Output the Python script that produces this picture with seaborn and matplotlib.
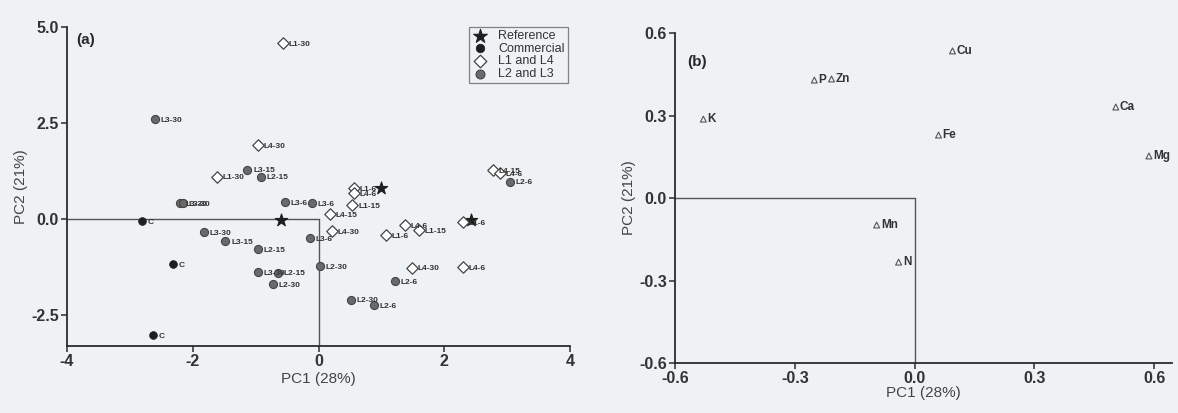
import pandas as pd
import matplotlib.pyplot as plt
import seaborn as sns

# ---------------- data: panel (a) scores ----------------
ref_x = [-0.59, 0.99, 2.42]
ref_y = [-0.03, 0.80, -0.03]

com_x = [-2.80, -2.32, -2.63]
com_y = [-0.05, -1.16, -3.02]
com_lab = ["C", "C", "C"]

l14_x = [-0.57, -0.97, -1.61, 0.56, 0.57, 0.54, 0.18, 0.21, 1.08, 1.37, 1.59, 1.48, 2.29, 2.29, 2.78, 2.88]
l14_y = [4.59, 1.93, 1.11, 0.82, 0.67, 0.36, 0.13, -0.31, -0.41, -0.15, -0.28, -1.26, -1.24, -0.08, 1.27, 1.19]
l14_lab = ["L1-30", "L4-30", "L1-30", "L1-6", "L4-6", "L1-15", "L4-15", "L4-30", "L1-6", "L4-6",
           "L1-15", "L4-30", "L4-6", "L1-6", "L4-15", "L4-6"]

l23_x = [-2.60, -1.13, -0.91, -2.20, -2.15, -0.53, -0.10, -1.82, -1.48, -0.96, -0.13, -0.96, -0.64,
         -0.73, 0.02, 1.21, 0.51, 0.88, 3.04]
l23_y = [2.60, 1.29, 1.11, 0.41, 0.43, 0.44, 0.41, -0.33, -0.57, -0.77, -0.49, -1.37, -1.39,
         -1.68, -1.21, -1.60, -2.09, -2.24, 0.98]
l23_lab = ["L3-30", "L3-15", "L2-15", "L3-30", "L3-30", "L3-6", "L3-6", "L3-30", "L3-15", "L2-15",
           "L3-6", "L3-30", "L2-15", "L2-30", "L2-30", "L2-6", "L2-30", "L2-6", "L2-6"]

# ---------------- data: panel (b) loadings ----------------
elements = ["K", "P", "Zn", "Cu", "Ca", "Fe", "Mg", "Mn", "N"]
load_x = [-0.529, -0.251, -0.208, 0.095, 0.504, 0.060, 0.587, -0.095, -0.040]
load_y = [0.287, 0.429, 0.433, 0.535, 0.331, 0.229, 0.153, -0.098, -0.233]

bg = "#eef2f5"
ink = "#2b2b2b"

sns.set_style("ticks")
plt.rcParams["font.family"] = ["Liberation Sans", "DejaVu Sans"]
plt.rcParams["axes.unicode_minus"] = False

fig = plt.figure(figsize=(11.78, 4.13), dpi=100, facecolor=bg)
ax_a = fig.add_axes([0.0569, 0.1622, 0.427, 0.7724])
ax_b = fig.add_axes([0.573, 0.121, 0.422, 0.799])

groups = [
    ("Reference", ref_x, ref_y, None, dict(marker="*", color="#1e1e1e", edgecolor="#1e1e1e", s=90)),
    ("Commercial", com_x, com_y, com_lab, dict(marker="o", color="#1e1e1e", edgecolor="#1e1e1e", s=32)),
    ("L1 and L4", l14_x, l14_y, l14_lab, dict(marker="D", color="white", edgecolor="#444444", s=34, linewidth=0.9)),
    ("L2 and L3", l23_x, l23_y, l23_lab, dict(marker="o", color="#6a6a6a", edgecolor="#444444", s=34, linewidth=0.8)),
]

for name, xs, ys, labs, kw in groups:
    df = pd.DataFrame({"PC1": xs, "PC2": ys})
    sns.scatterplot(data=df, x="PC1", y="PC2", ax=ax_a, label=name, zorder=3, **kw)
    if labs is not None:
        for x, y, t in zip(xs, ys, labs):
            ax_a.annotate(t, (x, y), xytext=(4, -1), textcoords="offset points",
                          fontsize=6, fontweight="bold", color="#333333", va="center", zorder=4)

# quadrant box lines
ax_a.plot([-4, 0], [0, 0], color="#555555", lw=1.0, zorder=1)
ax_a.plot([0, 0], [-3.3, 0], color="#555555", lw=1.0, zorder=1)

ax_a.set_xlim(-4, 4)
ax_a.set_ylim(-3.3, 5.0)
ax_a.set_xticks([-4, -2, 0, 2, 4])
ax_a.set_yticks([-2.5, 0.0, 2.5, 5.0])
ax_a.set_yticklabels(["-2.5", "0.0", "2.5", "5.0"])
ax_a.set_xlabel("PC1 (28%)", fontsize=11, color="#444444", labelpad=2)
ax_a.set_ylabel("PC2 (21%)", fontsize=11, color="#444444", labelpad=2)
ax_a.text(-3.85, 4.55, "(a)", fontsize=11, fontweight="bold", color=ink)

leg = ax_a.legend(loc="upper right", bbox_to_anchor=(0.995, 1.0), fontsize=9, frameon=True,
                  fancybox=False, edgecolor="#666666", borderpad=0.25, labelspacing=0.05,
                  handletextpad=0.7, borderaxespad=0.0, handlelength=1.4, markerscale=1.1)
leg.get_frame().set_facecolor(bg)
leg.get_frame().set_linewidth(0.9)
for t in leg.get_texts():
    t.set_color("#333333")

# ---------------- panel (b) ----------------
dfb = pd.DataFrame({"PC1": load_x, "PC2": load_y, "el": elements})
sns.scatterplot(data=dfb, x="PC1", y="PC2", ax=ax_b, marker="^", s=18,
                facecolor="none", edgecolor="#555555", linewidth=0.8, zorder=3)
for x, y, t in zip(load_x, load_y, elements):
    ax_b.annotate(t, (x, y), xytext=(3, 0), textcoords="offset points",
                  fontsize=8.5, fontweight="bold", color="#333333", va="center", zorder=4)

ax_b.plot([-0.6, 0], [0, 0], color="#555555", lw=1.0, zorder=1)
ax_b.plot([0, 0], [-0.6, 0], color="#555555", lw=1.0, zorder=1)

ax_b.set_xlim(-0.6, 0.645)
ax_b.set_ylim(-0.6, 0.6)
ax_b.set_xticks([-0.6, -0.3, 0.0, 0.3, 0.6])
ax_b.set_yticks([-0.6, -0.3, 0.0, 0.3, 0.6])
ax_b.set_xticklabels(["-0.6", "-0.3", "0.0", "0.3", "0.6"])
ax_b.set_yticklabels(["-0.6", "-0.3", "0.0", "0.3", "0.6"])
ax_b.set_xlabel("PC1 (28%)", fontsize=11, color="#444444", labelpad=0)
ax_b.set_ylabel("PC2 (21%)", fontsize=11, color="#444444", labelpad=2)
ax_b.text(-0.57, 0.48, "(b)", fontsize=11, fontweight="bold", color=ink)

for ax in (ax_a, ax_b):
    ax.set_facecolor(bg)
    sns.despine(ax=ax)
    for side in ("left", "bottom"):
        ax.spines[side].set_color(ink)
        ax.spines[side].set_linewidth(1.3)
    ax.tick_params(direction="out", length=4, width=1.1, color=ink, labelsize=11.5, pad=2)
    for lab in ax.get_xticklabels() + ax.get_yticklabels():
        lab.set_fontweight("bold")
        lab.set_color("#333333")

fig.savefig("out.png", dpi=100, facecolor=bg)
